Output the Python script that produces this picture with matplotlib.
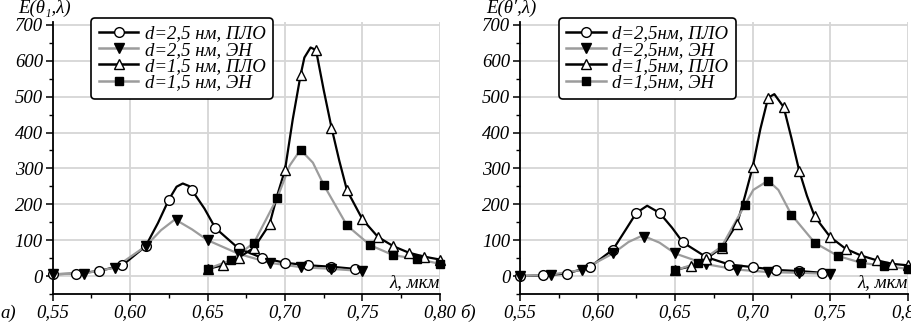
"""Two-panel plot of field enhancement E vs wavelength for two film thicknesses."""

import matplotlib
matplotlib.use("Agg")
import matplotlib.pyplot as plt
from matplotlib.ticker import MultipleLocator, FuncFormatter

plt.rcParams["font.family"] = ["Liberation Serif", "DejaVu Serif"]
plt.rcParams["font.style"] = "italic"

# ---- panel a) -------------------------------------------------------------
a_circ_x = [0.55, 0.565, 0.58, 0.595, 0.61, 0.625, 0.64, 0.655, 0.67, 0.685, 0.70, 0.715, 0.73, 0.745]
a_circ_y = [5, 7, 14, 30, 83, 213, 239, 134, 77, 51, 37, 30, 26, 20]
a_circ_line_x = [0.55, 0.565, 0.58, 0.595, 0.61, 0.618, 0.625, 0.63, 0.634, 0.638, 0.64, 0.648, 0.655,
                 0.67, 0.685, 0.70, 0.715, 0.73, 0.745]
a_circ_line_y = [5, 7, 14, 30, 83, 148, 213, 249, 258, 251, 239, 188, 134, 77, 51, 37, 30, 26, 20]

a_tri_dn_x = [0.55, 0.57, 0.59, 0.61, 0.63, 0.65, 0.67, 0.69, 0.71, 0.73, 0.75]
a_tri_dn_y = [5, 7, 23, 83, 155, 100, 62, 37, 25, 20, 14]
a_tri_dn_line_x = [0.55, 0.57, 0.59, 0.61, 0.62, 0.629, 0.64, 0.65, 0.67, 0.69, 0.71, 0.73, 0.75]
a_tri_dn_line_y = [5, 7, 23, 83, 128, 158, 130, 100, 62, 37, 25, 20, 14]

a_tri_up_x = [0.65, 0.66, 0.67, 0.68, 0.69, 0.70, 0.71, 0.72, 0.73, 0.74, 0.75, 0.76, 0.77, 0.78, 0.79, 0.80]
a_tri_up_y = [20, 30, 51, 79, 144, 296, 559, 630, 414, 239, 158, 109, 83, 65, 54, 46]
a_tri_up_line_x = [0.65, 0.66, 0.67, 0.68, 0.69, 0.695, 0.70, 0.705, 0.71, 0.7125, 0.7165, 0.72, 0.725,
                   0.73, 0.735, 0.74, 0.75, 0.76, 0.77, 0.78, 0.79, 0.80]
a_tri_up_line_y = [20, 30, 51, 79, 144, 225, 296, 437, 559, 609, 637, 630, 518, 414, 322, 239, 158,
                   109, 83, 65, 54, 46]

a_sq_x = [0.65, 0.665, 0.68, 0.695, 0.71, 0.725, 0.74, 0.755, 0.77, 0.785, 0.80]
a_sq_y = [20, 44, 93, 218, 352, 254, 141, 86, 58, 48, 34]
a_sq_line_x = [0.65, 0.665, 0.68, 0.695, 0.703, 0.71, 0.718, 0.725, 0.74, 0.755, 0.77, 0.785, 0.80]
a_sq_line_y = [20, 44, 93, 218, 308, 352, 316, 254, 141, 86, 58, 48, 34]

# ---- panel б) -------------------------------------------------------------
b_circ_x = [0.55, 0.565, 0.58, 0.595, 0.61, 0.625, 0.64, 0.655, 0.67, 0.685, 0.70, 0.715, 0.73, 0.745]
b_circ_y = [0, 2, 7, 25, 74, 176, 176, 94, 53, 32, 25, 17, 14, 9]
b_circ_line_x = [0.55, 0.565, 0.58, 0.595, 0.61, 0.618, 0.625, 0.632, 0.64, 0.648, 0.655, 0.67, 0.685,
                 0.70, 0.715, 0.73, 0.745]
b_circ_line_y = [0, 2, 7, 25, 74, 128, 176, 196, 176, 135, 94, 53, 32, 25, 17, 14, 9]

b_tri_dn_x = [0.55, 0.57, 0.59, 0.61, 0.63, 0.65, 0.67, 0.69, 0.71, 0.73, 0.75]
b_tri_dn_y = [0, 4, 17, 63, 109, 63, 33, 18, 11, 9, 6]
b_tri_dn_line_x = [0.55, 0.57, 0.59, 0.61, 0.62, 0.629, 0.64, 0.65, 0.67, 0.69, 0.71, 0.73, 0.75]
b_tri_dn_line_y = [0, 4, 17, 63, 95, 113, 93, 63, 33, 18, 11, 9, 6]

b_tri_up_x = [0.65, 0.66, 0.67, 0.68, 0.69, 0.70, 0.71, 0.72, 0.73, 0.74, 0.75, 0.76, 0.77, 0.78, 0.79, 0.80]
b_tri_up_y = [17, 27, 48, 79, 146, 303, 497, 471, 294, 166, 109, 76, 57, 44, 34, 30]
b_tri_up_line_x = [0.65, 0.66, 0.67, 0.68, 0.69, 0.695, 0.70, 0.705, 0.71, 0.714, 0.72, 0.725, 0.73,
                   0.735, 0.74, 0.75, 0.76, 0.77, 0.78, 0.79, 0.80]
b_tri_up_line_y = [17, 27, 48, 79, 146, 222, 303, 410, 497, 507, 471, 385, 294, 224, 166, 109, 76,
                   57, 44, 34, 30]

b_sq_x = [0.65, 0.665, 0.68, 0.695, 0.71, 0.725, 0.74, 0.755, 0.77, 0.785, 0.80]
b_sq_y = [16, 37, 82, 198, 266, 171, 93, 56, 37, 28, 20]
b_sq_line_x = [0.65, 0.665, 0.68, 0.695, 0.7004, 0.71, 0.7166, 0.725, 0.74, 0.755, 0.77, 0.785, 0.80]
b_sq_line_y = [16, 37, 82, 198, 240, 266, 240, 171, 93, 56, 37, 28, 20]

a_labels = ["d=2,5 нм, ПЛО", "d=2,5 нм, ЭН", "d=1,5 нм, ПЛО", "d=1,5 нм, ЭН"]
b_labels = ["d=2,5нм, ПЛО", "d=2,5нм, ЭН", "d=1,5нм, ПЛО", "d=1,5нм, ЭН"]

x_ticks = [0.55, 0.60, 0.65, 0.70, 0.75, 0.80]
y_ticks = [0, 100, 200, 300, 400, 500, 600, 700]

BLACK = "#000000"
GRAY = "#9c9c9c"
FS = 13.5


def _draw_panel(ax, series, labels):
    """Draw four curves with markers on one axes and style it."""
    styles = [
        (BLACK, "o", "white", 7.0),
        (GRAY, "v", BLACK, 7.0),
        (BLACK, "^", "white", 7.0),
        (GRAY, "s", BLACK, 6.0),
    ]
    handles = []
    for (lx, ly, mx, my), (col, mk, face, ms), lab in zip(series, styles, labels):
        ax.plot(lx, ly, color=col, lw=1.6, zorder=3, solid_joinstyle="round")
        ax.plot(mx, my, ls="none", marker=mk, ms=ms, mfc=face, mec=BLACK, mew=1.0,
                zorder=4, clip_on=False)
        h, = ax.plot([], [], color=col, lw=1.8, marker=mk, ms=ms, mfc=face, mec=BLACK,
                     mew=1.0, label=lab)
        handles.append(h)

    ax.set_xlim(0.55, 0.80)
    ax.set_ylim(-50, 708)
    ax.set_xticks(x_ticks)
    ax.set_yticks(y_ticks)
    ax.xaxis.set_minor_locator(MultipleLocator(0.025))
    ax.yaxis.set_minor_locator(MultipleLocator(50))
    ax.xaxis.set_major_formatter(FuncFormatter(lambda v, _: f"{v:.2f}".replace(".", ",")))
    ax.grid(True, which="major", color="#d6d6d6", lw=1.3, zorder=0)
    ax.set_axisbelow(True)
    for side in ("top", "right"):
        ax.spines[side].set_visible(False)
    for side in ("left", "bottom"):
        ax.spines[side].set_linewidth(1.3)
    ax.tick_params(which="major", direction="out", length=5, width=1.1, labelsize=FS, pad=2)
    ax.tick_params(which="minor", direction="out", length=3, width=1.0)
    plt.setp(ax.get_xticklabels() + ax.get_yticklabels(), fontstyle="italic")

    leg = ax.legend(handles=handles, loc="upper left", bbox_to_anchor=(0.1, 1.015),
                    fontsize=FS, frameon=True, fancybox=True, framealpha=1,
                    edgecolor=BLACK, handlelength=2.1, handletextpad=0.35,
                    labelspacing=-0.05, borderpad=0.4, borderaxespad=0)
    leg.get_frame().set_linewidth(1.2)
    for t in leg.get_texts():
        t.set_fontstyle("italic")

    ax.text(1.0, 0.012, "λ, мкм", transform=ax.transAxes, ha="right", va="bottom",
            fontsize=FS, style="italic")


def main() -> None:
    fig = plt.figure(figsize=(9.11, 3.23), dpi=100)
    ax_a = fig.add_axes([0.0578, 0.0898, 0.4251, 0.842])
    ax_b = fig.add_axes([0.5708, 0.0898, 0.4256, 0.842])

    _draw_panel(ax_a, [
        (a_circ_line_x, a_circ_line_y, a_circ_x, a_circ_y),
        (a_tri_dn_line_x, a_tri_dn_line_y, a_tri_dn_x, a_tri_dn_y),
        (a_tri_up_line_x, a_tri_up_line_y, a_tri_up_x, a_tri_up_y),
        (a_sq_line_x, a_sq_line_y, a_sq_x, a_sq_y),
    ], a_labels)
    _draw_panel(ax_b, [
        (b_circ_line_x, b_circ_line_y, b_circ_x, b_circ_y),
        (b_tri_dn_line_x, b_tri_dn_line_y, b_tri_dn_x, b_tri_dn_y),
        (b_tri_up_line_x, b_tri_up_line_y, b_tri_up_x, b_tri_up_y),
        (b_sq_line_x, b_sq_line_y, b_sq_x, b_sq_y),
    ], b_labels)

    fig.text(45 / 911, 1 - 0 / 323, "E(θ₁,λ)", ha="center", va="top", fontsize=FS, style="italic")
    fig.text(511 / 911, 1 - 0 / 323, "E(θ′,λ)", ha="center", va="top", fontsize=FS, style="italic")
    fig.text(0.0, 1 / 323, "а)", ha="left", va="bottom", fontsize=FS, style="italic")
    fig.text(460 / 911, 1 / 323, "б)", ha="left", va="bottom", fontsize=FS, style="italic")

    fig.savefig("out.png", dpi=100)
    plt.close(fig)


if __name__ == "__main__":
    main()
